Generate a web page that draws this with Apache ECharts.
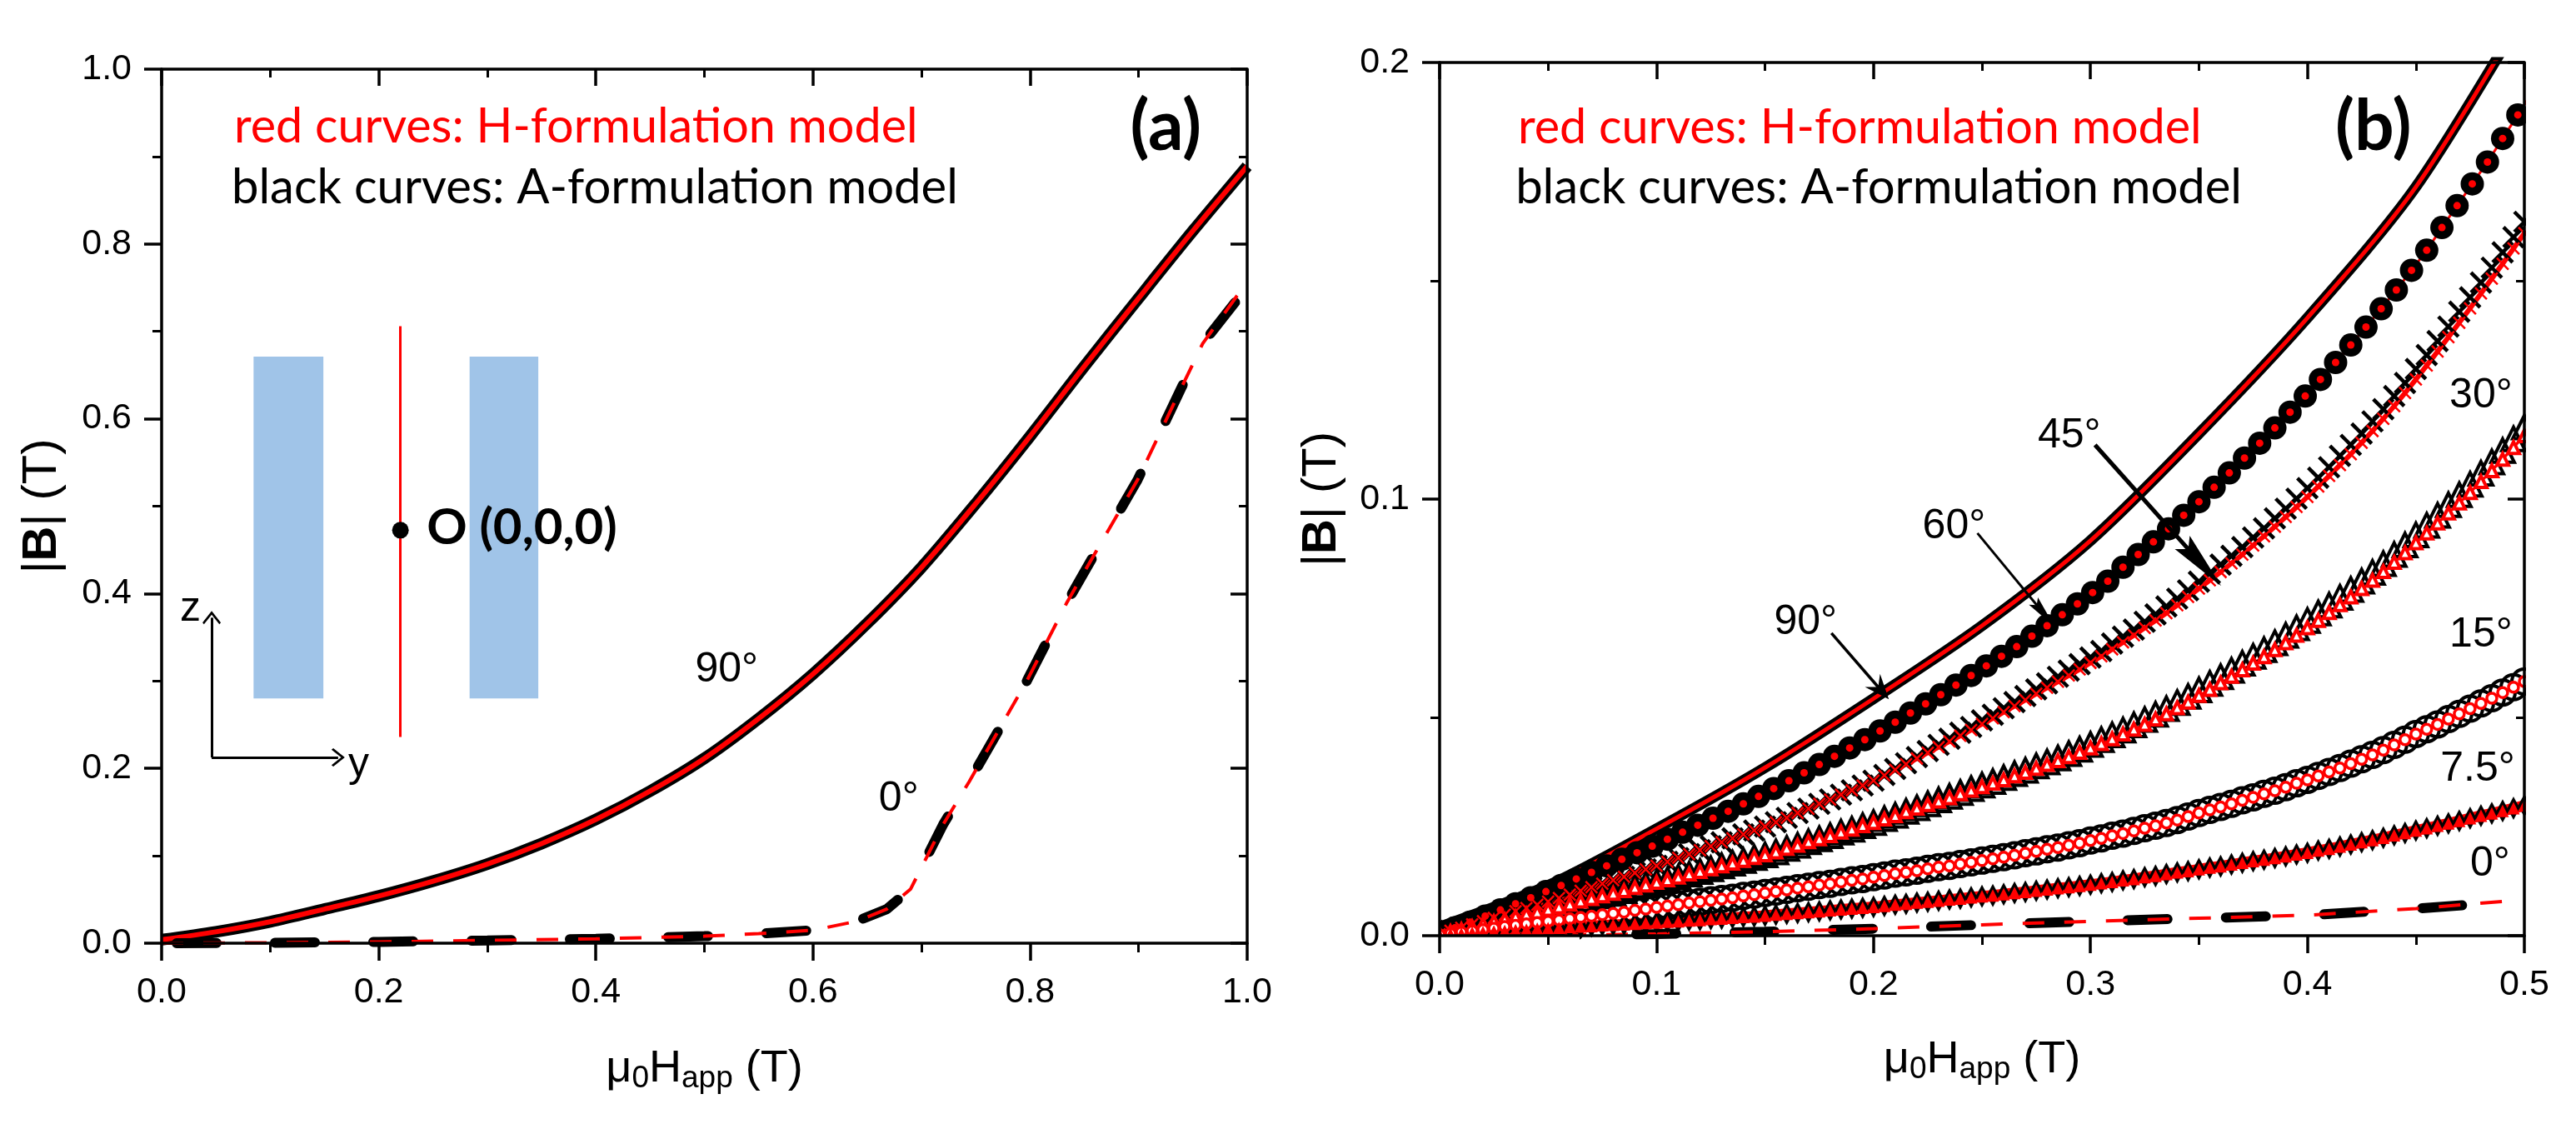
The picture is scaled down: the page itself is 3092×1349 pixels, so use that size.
<!DOCTYPE html>
<html><head><meta charset="utf-8">
<style>html,body{margin:0;padding:0;background:#fff}#c{width:3092px;height:1349px}</style>
<script src="https://cdn.jsdelivr.net/npm/echarts@6/dist/echarts.min.js"></script>
</head><body><div id="c"></div>
<script>
// ---------- panel (a) values ----------
const a90X=[0,.05,.1,.15,.2,.25,.3,.35,.4,.45,.5,.55,.6,.65,.7,.75,.8,.85,.9,.95,1];
const a90=[.004,.013,.0245,.039,.054,.071,.0905,.114,.1415,.174,.2115,.257,.308,.366,.43,.503,.58,.66,.738,.815,.889];
const a0X=[0,.1,.2,.3,.4,.5,.55,.6,.64,.668,.69,.72,.744,.797,.834,.857,.899,.94,.959,.992,1];
const a0=[0,.0005,.0015,.0032,.005,.008,.011,.0148,.025,.039,.062,.136,.185,.30,.39,.44,.53,.637,.686,.743,.75];
const a0BlackX=[0,.1,.2,.3,.4,.5,.55,.6,.64,.668,.69,.72,.744,.797,.834,.857,.899,.94,.959,.99];
const a0Black=[0,.0005,.0015,.0032,.005,.008,.011,.0148,.025,.039,.062,.136,.185,.30,.39,.44,.53,.637,.686,.735];
// ---------- panel (b) values ----------
const b90X=[0,.05,.1,.15,.2,.25,.3,.35,.4,.45,.5];
const b90=[.002,.0115,.0245,.0385,.0543,.071,.0905,.115,.1415,.1715,.2115];
const b0X=[0,.05,.1,.15,.2,.25,.3,.35,.4,.45,.491];
const b0=[0,.0001,.0004,.0009,.0016,.0025,.0033,.004,.0047,.0062,.0079];
const b0BlackX=[0,.05,.1,.15,.2,.25,.3,.35,.4,.45,.475];
const b0Black=[0,.0001,.0004,.0009,.0016,.0025,.0033,.004,.0047,.0062,.0071];
const b60X=[0,.007,.014,.021,.028,.035,.042,.049,.056,.063,.07,.077,.084,.091,.098,.105,.112,.119,.126,.133,.14,.147,.154,.161,.168,.175,.182,.189,.196,.203,.21,.217,.224,.231,.238,.245,.252,.259,.266,.273,.28,.287,.294,.301,.308,.315,.322,.329,.336,.343,.35,.357,.364,.371,.378,.385,.392,.399,.406,.413,.42,.427,.434,.441,.448,.455,.462,.469,.476,.483,.49,.497,.504];
const b60=[.0005,.0018,.0031,.0045,.0059,.0073,.0087,.0101,.0115,.013,.0145,.016,.0175,.019,.0205,.0221,.0237,.0253,.0269,.0285,.0302,.0319,.0337,.0355,.0373,.0392,.0411,.043,.0449,.0469,.0489,.051,.0531,.0552,.0574,.0596,.0618,.064,.0662,.0686,.071,.0735,.076,.0786,.0812,.0844,.0873,.0902,.0932,.0963,.0994,.1027,.106,.1094,.1128,.1163,.1199,.1236,.1274,.1313,.1353,.1394,.1436,.1479,.1524,.157,.1622,.1672,.1722,.1772,.1826,.188,.1935];
const xStep=[0,.005,.01,.015,.02,.025,.03,.035,.04,.045,.05,.055,.06,.065,.07,.075,.08,.085,.09,.095,.1,.105,.11,.115,.12,.125,.13,.135,.14,.145,.15,.155,.16,.165,.17,.175,.18,.185,.19,.195,.2,.205,.21,.215,.22,.225,.23,.235,.24,.245,.25,.255,.26,.265,.27,.275,.28,.285,.29,.295,.3,.305,.31,.315,.32,.325,.33,.335,.34,.345,.35,.355,.36,.365,.37,.375,.38,.385,.39,.395,.4,.405,.41,.415,.42,.425,.43,.435,.44,.445,.45,.455,.46,.465,.47,.475,.48,.485,.49,.495,.5];
const b45Red=[.0003,
.0011,.0018,.0026,.0033,.0041,.0048,.0056,.0063,.0071,.0078,
.0086,.0094,.0103,.0111,.0119,.0127,.0135,.0144,.0152,.016,
.0169,.0178,.0187,.0196,.0205,.0214,.0223,.0232,.0241,.025,
.026,.027,.0281,.0291,.0302,.0312,.0323,.0333,.0344,.0355,
.0367,.038,.0393,.0406,.0419,.0432,.0445,.0458,.0471,.0485,
.0498,.0512,.0526,.054,.0554,.0568,.0582,.0596,.061,.0625,
.064,.0656,.0672,.0688,.0705,.0722,.0739,.0757,.0776,.0795,
.0814,.0833,.0853,.0873,.0894,.0915,.0937,.0959,.0982,.1005,
.1029,.1053,.1078,.1103,.1129,.1156,.1184,.1213,.1243,.1274,
.1306,.1338,.1371,.1404,.1437,.1471,.1505,.1539,.1574,.1609];
const b45Black=[.0003,
.0011,.0018,.0026,.0033,.0041,.0048,.0056,.0063,.0071,.0078,
.0086,.0094,.0103,.0111,.0119,.0127,.0135,.0144,.0152,.016,
.0169,.0178,.0187,.0196,.0205,.0214,.0223,.0232,.0241,.025,
.026,.027,.0281,.0291,.0302,.0312,.0323,.0333,.0344,.0355,
.0368,.0382,.0395,.0409,.0423,.0437,.0451,.0465,.0478,.0493,
.0506,.0521,.0535,.0549,.0564,.0578,.0593,.0607,.0622,.0637,
.0652,.0669,.0685,.0701,.0719,.0736,.0754,.0772,.0791,.0811,
.083,.085,.087,.089,.0912,.0933,.0956,.0978,.1001,.1025,
.1049,.1073,.1099,.1124,.115,.1178,.1206,.1236,.1266,.1298,
.133,.1362,.1395,.1429,.1462,.1496,.153,.1565,.16,.1635];
const b30Red=[.0003,
.0009,.0014,.002,.0026,.0032,.0037,.0043,.0049,.0054,.006,
.0066,.0072,.0079,.0085,.0091,.0097,.0103,.011,.0116,.0122,
.0128,.0134,.0141,.0147,.0153,.016,.0166,.0172,.0179,.0185,
.0192,.02,.0207,.0215,.0222,.0229,.0237,.0244,.0252,.0259,
.0267,.0275,.0284,.0292,.03,.0308,.0316,.0325,.0333,.0341,
.0349,.0357,.0366,.0374,.0383,.0392,.0401,.041,.042,.043,
.044,.0451,.0462,.0473,.0484,.0496,.0508,.0522,.0535,.055,
.0564,.0579,.0594,.0609,.0624,.0639,.0655,.0671,.0688,.0705,
.0722,.074,.0758,.0776,.0795,.0814,.0834,.0855,.0877,.09,
.0922,.0945,.0968,.0991,.1015,.104,.1065,.1091,.1118,.1145];
const b30Black=[.0003,
.0009,.0014,.002,.0026,.0032,.0037,.0043,.0049,.0054,.006,
.0066,.0072,.0079,.0085,.0091,.0097,.0103,.011,.0116,.0122,
.0128,.0134,.0141,.0147,.0153,.016,.0166,.0172,.0179,.0185,
.0192,.02,.0207,.0215,.0222,.0229,.0237,.0244,.0252,.0259,
.0268,.0276,.0285,.0293,.0302,.0311,.0319,.0328,.0337,.0345,
.0353,.0362,.0371,.0379,.0389,.0398,.0407,.0417,.0427,.0438,
.0449,.046,.0471,.0483,.0495,.0507,.052,.0534,.0548,.0563,
.0578,.0593,.0608,.0624,.064,.0655,.0671,.0688,.0705,.0722,
.0739,.0757,.0775,.0793,.0812,.0832,.0852,.0873,.0895,.0918,
.094,.0963,.0987,.101,.1034,.1059,.1085,.1111,.1138,.1165];
const b15=[.0002,
.0005,.0008,.0011,.0014,.0017,.0021,.0024,.0027,.003,.0033,
.0036,.0039,.0042,.0045,.0048,.0051,.0054,.0058,.0061,.0065,
.0068,.0071,.0075,.0078,.0081,.0084,.0087,.0091,.0094,.0098,
.0101,.0105,.0109,.0112,.0116,.0119,.0123,.0127,.013,.0134,
.0138,.0142,.0145,.0149,.0153,.0157,.016,.0164,.0168,.0172,
.0176,.018,.0184,.0189,.0193,.0198,.0202,.0207,.0212,.0218,
.0223,.0229,.0234,.024,.0246,.0252,.0258,.0265,.0273,.0281,
.0288,.0295,.0302,.031,.0317,.0325,.0332,.034,.0349,.0357,
.0366,.0375,.0384,.0394,.0404,.0414,.0425,.0437,.0449,.0462,
.0473,.0484,.0496,.0508,.052,.0532,.0544,.0557,.0569,.0582];
const b7_5=[.0002,
.0004,.0005,.0007,.0008,.001,.0011,.0013,.0014,.0016,.0017,
.0018,.002,.0021,.0022,.0024,.0025,.0026,.0027,.0029,.003,
.0032,.0033,.0035,.0036,.0038,.0039,.0041,.0043,.0044,.0046,
.0048,.005,.0052,.0054,.0056,.0058,.006,.0062,.0064,.0066,
.0068,.0071,.0073,.0076,.0078,.008,.0083,.0085,.0088,.009,
.0092,.0095,.0098,.01,.0103,.0106,.0109,.0111,.0114,.0117,
.012,.0123,.0127,.013,.0134,.0137,.0141,.0145,.0148,.0152,
.0156,.0159,.0163,.0167,.0171,.0174,.0178,.0182,.0186,.019,
.0195,.0199,.0204,.0209,.0214,.0219,.0224,.023,.0235,.0241,
.0246,.0252,.0257,.0263,.0269,.0275,.028,.0286,.0292,.0298];
const tickFmt=v=>v.toFixed(1);
const RED='#ff0000',BLK='#000000',FONT='"Liberation Sans",Arial,sans-serif',CAL='Lato,"Open Sans",sans-serif';
const zip=(x,y)=>x.map((v,i)=>[v,y[i]]);

const nameRich={m:{fontSize:54,fontFamily:FONT,color:BLK},s:{fontSize:37,fontFamily:FONT,color:BLK,padding:[22,0,0,0]},r:{fontSize:58,fontFamily:FONT,color:BLK},b:{fontSize:58,fontFamily:FONT,color:BLK,fontWeight:'bold'}};
function xAxes(g,max,iv,gap){const common={type:'value',gridIndex:g,min:0,max:max,interval:iv,z:40,axisLine:{onZero:false,lineStyle:{color:BLK,width:3.5}},splitLine:{show:false},minorSplitLine:{show:false}};
 return [{...common,position:'bottom',axisTick:{length:21,lineStyle:{color:BLK,width:3.5}},minorTick:{show:true,splitNumber:2,length:11,lineStyle:{color:BLK,width:3}},
  axisLabel:{color:BLK,fontSize:43,fontFamily:FONT,margin:38,formatter:tickFmt,showMinLabel:true,showMaxLabel:true,hideOverlap:false},
  name:'{m|μ}{s|0}{m|H}{s|app}{m| (T)}',nameLocation:'middle',nameGap:gap,nameTextStyle:{rich:nameRich}},
 {...common,position:'top',axisLabel:{show:false},axisTick:{inside:true,length:20,lineStyle:{color:BLK,width:3.5}},minorTick:{show:true,splitNumber:2,length:10,lineStyle:{color:BLK,width:3}}}];}
function yAxes(g,max,iv,minorN,gap){const common={type:'value',gridIndex:g,min:0,max:max,interval:iv,z:40,axisLine:{onZero:false,lineStyle:{color:BLK,width:3.5}},splitLine:{show:false},minorSplitLine:{show:false}};
 return [{...common,position:'left',axisTick:{length:21,lineStyle:{color:BLK,width:3.5}},minorTick:{show:true,splitNumber:minorN,length:11,lineStyle:{color:BLK,width:3}},
  axisLabel:{color:BLK,fontSize:43,fontFamily:FONT,margin:36,formatter:tickFmt,showMinLabel:true,showMaxLabel:true,hideOverlap:false},
  name:'{r||}{b|B}{r|| (T)}',nameLocation:'middle',nameGap:gap,nameRotate:90,nameTextStyle:{rich:nameRich}},
 {...common,position:'right',axisLabel:{show:false},axisTick:{inside:true,length:20,lineStyle:{color:BLK,width:3.5}},minorTick:{show:true,splitNumber:minorN,length:10,lineStyle:{color:BLK,width:3}}}];}

function curve(g,data,o){return Object.assign({type:'line',xAxisIndex:g*2,yAxisIndex:g*2,data:data,showSymbol:false,symbol:'none',animation:false,silent:true,clip:true,connectNulls:false},o);}
const XMARK='path://M0 0L20 20M20 0L0 20';
function marked(g,data,sym,size,fill,border,bw,lineW,lineC){return curve(g,data,{showSymbol:true,showAllSymbol:true,symbol:sym,symbolSize:size,
 itemStyle:{color:fill,borderColor:border,borderWidth:bw,opacity:1},lineStyle:{width:lineW,color:lineC||border,opacity:lineW?1:0}});}
function notes(g,items){return {type:'scatter',xAxisIndex:g*2,yAxisIndex:g*2,symbolSize:1,itemStyle:{color:'rgba(0,0,0,0)',opacity:1},animation:false,silent:true,z:30,
 data:items.map(t=>({value:[t[0],t[1]],label:{show:true,position:'inside',formatter:t[2],color:t[3]||BLK,opacity:1,fontSize:t[4],fontFamily:t[5]||FONT,fontWeight:t[6]||'normal',align:t[7]||'center',verticalAlign:'middle'}}))};}
function arrows(g,items){return {type:'line',xAxisIndex:g*2,yAxisIndex:g*2,data:[],animation:false,silent:true,z:25,
 markLine:{silent:true,animation:false,label:{show:false},precision:6,data:items.map(t=>[{coord:t[0],symbol:'none',lineStyle:{color:t[2]||BLK,width:t[3],type:'solid'}},{coord:t[1],symbol:t[4]||'none',symbolSize:t[5]||0,itemStyle:{color:t[2]||BLK}}])}};}
const CHEVRON='path://M0 0L10 10L8.4 11.6L0 3.2L-8.4 11.6L-10 10Z';
const BARB='path://M0 0L9 20L0 13L-9 20Z';
const SLIM='path://M0 0L7 26L0 22L-7 26Z';

const series=[
 // ------ panel a: inset drawing
 {type:'line',xAxisIndex:0,yAxisIndex:0,data:[],animation:false,silent:true,z:1,markArea:{silent:true,animation:false,itemStyle:{color:'#a0c4e8'},data:[[{coord:[.0847,.671]},{coord:[.149,.28]}],[{coord:[.2837,.671]},{coord:[.347,.28]}]]}},
 arrows(0,[[[.22,.706],[.22,.236],RED,3],[[.0461,.2125],[.0461,.3724],BLK,3,CHEVRON,[22,16]],[[.0461,.2125],[.1626,.2125],BLK,3,CHEVRON,[22,16]]]),
 {type:'scatter',xAxisIndex:0,yAxisIndex:0,symbolSize:20,data:[[.22,.4725]],itemStyle:{color:BLK,opacity:1},animation:false,silent:true,z:26},
 curve(0,zip(a90X,a90),{smooth:.3,lineStyle:{color:BLK,width:14}}),
 curve(0,zip(a90X,a90),{smooth:.3,lineStyle:{color:RED,width:6}}),
 curve(0,zip(a0BlackX,a0Black),{lineStyle:{color:BLK,width:12,type:[48,70],cap:'round',dashOffset:100}}),
 curve(0,zip(a0X,a0),{lineStyle:{color:RED,width:4,type:[26,24]}}),
 notes(0,[[.0667,.9337,'red curves: H-formulation model',RED,57.5,CAL,'normal','left'],[.0644,.8646,'black curves: A-formulation model',BLK,58,CAL,'normal','left'],
  [.925,.9337,'(a)',BLK,84,CAL,'bold'],[.5205,.3126,'90°',BLK,50],[.679,.165,'0°',BLK,50],[.0265,.382,'z',BLK,50],[.1815,.2034,'y',BLK,50],[.2443,.475,'O (0,0,0)',BLK,60,CAL,'bold','left']]),
 // ------ panel b: black curves
 curve(1,zip(b90X,b90),{smooth:.3,lineStyle:{color:BLK,width:13}}),
 marked(1,zip(b60X,b60),'circle',28,BLK,BLK,0,0),
 marked(1,zip(xStep,b45Black),XMARK,24,'none',BLK,4.5,0),
 marked(1,zip(xStep,b30Black),'triangle',28,'none',BLK,4,0),
 marked(1,zip(xStep,b15),'circle',30,'none',BLK,4,0),
 marked(1,zip(xStep,b7_5),'diamond',[15,28],BLK,BLK,0,0),
 curve(1,zip(b0BlackX,b0Black),{lineStyle:{color:BLK,width:12,type:[48,70],cap:'round',dashOffset:0}}),
 // ------ panel b: red curves
 curve(1,zip(b90X,b90),{smooth:.3,lineStyle:{color:RED,width:5}}),
 marked(1,zip(b60X,b60),'circle',9,RED,RED,0,3),
 marked(1,zip(xStep,b45Red),XMARK,14,'none',RED,2.5,6),
 marked(1,zip(xStep,b30Red),'triangle',14,'#fff',RED,4,3),
 marked(1,zip(xStep,b15),'circle',12,'#fff',RED,3.5,3),
 marked(1,zip(xStep,b7_5),'triangle',15,RED,RED,0,13),
 curve(1,zip(b0X,b0),{lineStyle:{color:RED,width:4,type:[26,24]}}),
 arrows(1,[[[.1806,.0693],[.2033,.0563],BLK,3.5,BARB,[24,30]],[[.2479,.0922],[.2786,.0737],BLK,3,SLIM,[14,40]],[[.3021,.1124],[.3513,.0851],BLK,5,SLIM,[24,70]]]),
 notes(1,[[.0361,.1851,'red curves: H-formulation model',RED,57.5,CAL,'normal','left'],[.035,.1714,'black curves: A-formulation model',BLK,58,CAL,'normal','left'],
  [.4304,.1851,'(b)',BLK,84,CAL,'bold'],[.1687,.0718,'90°',BLK,50],[.2371,.0937,'60°',BLK,50],[.2902,.1145,'45°',BLK,50],[.48,.1237,'30°',BLK,50],[.48,.0689,'15°',BLK,50],[.4785,.0382,'7.5°',BLK,50],[.4842,.0164,'0°',BLK,50]])
];
const chart=echarts.init(document.getElementById('c'),null,{renderer:'canvas'});
const ax=xAxes(0,1,.2,122),bx=xAxes(1,.5,.1,120),ay=yAxes(0,1,.2,2,114),by=yAxes(1,.2,.1,2,112);
// white masks: the reference clips marks at the frame of panel (b)
const mask=(x,y,w,h)=>({type:'rect',z:35,silent:true,shape:{x:x,y:y,width:w,height:h},style:{fill:'#fff'}});
chart.setOption({backgroundColor:'#fff',animation:false,
 grid:[{left:194,top:83,width:1303,height:1049},{left:1728,top:75,width:1302,height:1048}],
 xAxis:[...ax,...bx],yAxis:[...ay,...by],series:series,
 graphic:{elements:[mask(3032,60,60,1064),mask(1696,1060,31,64),mask(1696,1124,200,30)]}});
</script></body></html>
